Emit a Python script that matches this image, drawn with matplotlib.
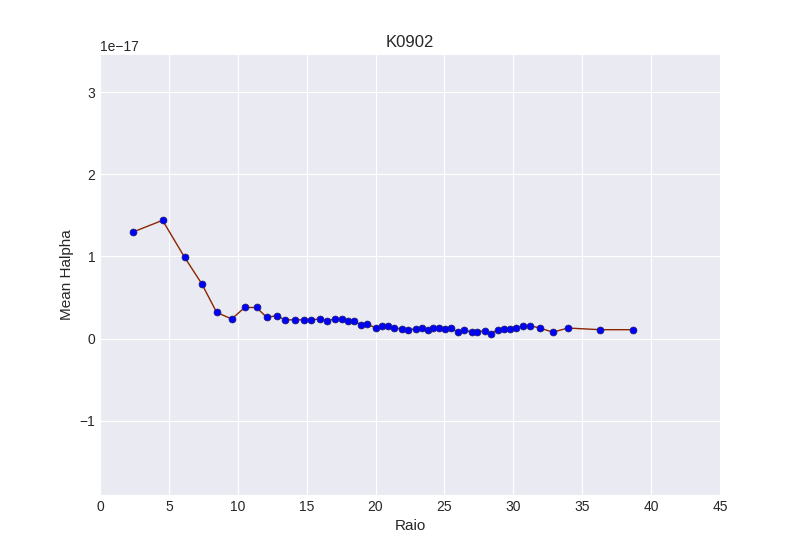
import matplotlib
matplotlib.use("Agg")
import matplotlib.pyplot as plt
import numpy as np

raio = [2.43,4.54,6.14,7.38,8.47,9.56,10.5,11.36,12.1,12.82,13.42,14.15,14.8,15.3,15.95,16.5,17.06,17.57,18.0,18.45,18.96,19.4,20.0,20.44,20.93,21.34,21.94,22.38,22.9,23.4,23.84,24.2,24.57,25.03,25.5,25.95,26.39,26.97,27.36,27.92,28.35,28.86,29.3,29.74,30.17,30.68,31.19,31.92,32.87,33.96,36.3,38.7]
halpha = [1.30,1.44,0.99,0.67,0.32,0.24,0.38,0.38,0.26,0.28,0.23,0.23,0.23,0.23,0.24,0.22,0.24,0.24,0.21,0.21,0.17,0.18,0.13,0.16,0.15,0.13,0.12,0.11,0.12,0.13,0.11,0.13,0.13,0.12,0.13,0.08,0.11,0.08,0.08,0.10,0.06,0.11,0.12,0.12,0.13,0.15,0.16,0.13,0.08,0.13,0.11,0.11]
scale = 1e-17

plt.style.use("seaborn-v0_8-darkgrid")
plt.rcParams['font.family'] = ['Liberation Sans', 'DejaVu Sans']
fig = plt.figure(figsize=(8, 5.5), dpi=100)
ax = fig.add_axes([0.125, 0.1, 0.775, 0.8])
y = np.array(halpha) * scale
ax.plot(raio, y, color='#8B2500', lw=1, zorder=2)
ax.scatter(raio, y, s=25, color='#0000ff', edgecolors='#202060', linewidths=0.5, zorder=3)
ax.set_xlim(0, 45)
ax.set_ylim(-1.9e-17, 3.45e-17)
ax.set_yticks(np.array([-1, 0, 1, 2, 3]) * scale)
ax.set_title("K0902", fontsize=12)
ax.set_xlabel("Raio", fontsize=11)
ax.set_ylabel("Mean Halpha", fontsize=11)
ax.tick_params(labelsize=10)
fig.savefig("out.png", dpi=100)
